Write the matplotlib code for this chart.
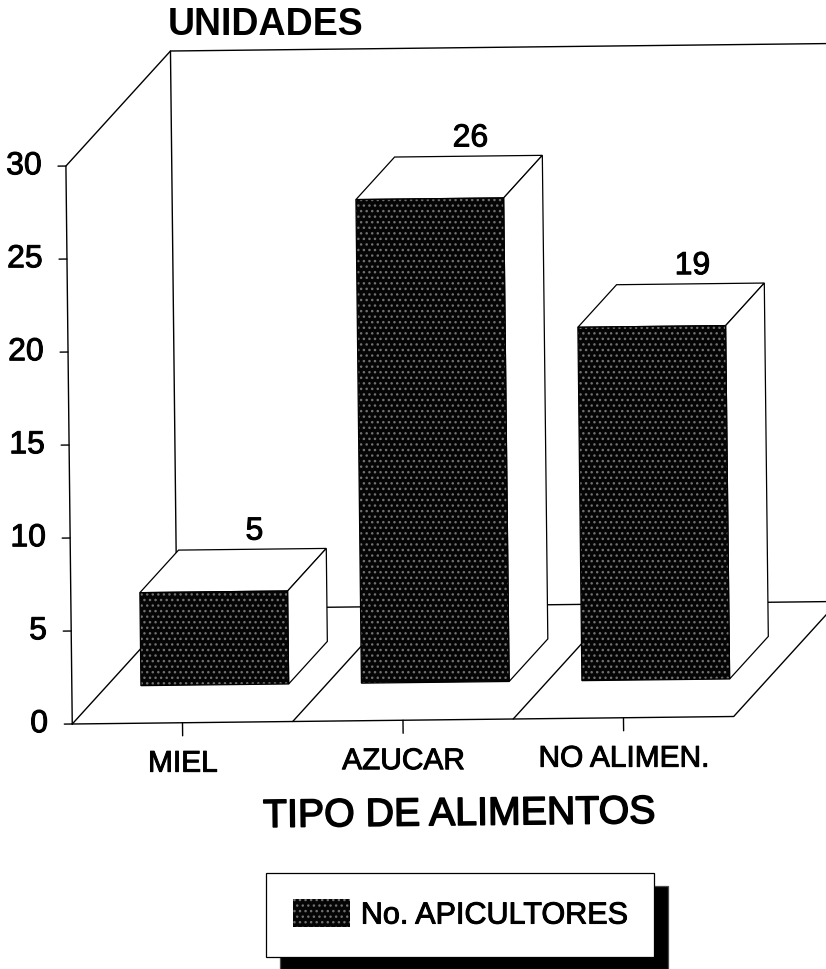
import matplotlib
matplotlib.use("Agg")
import matplotlib.pyplot as plt
import matplotlib.patheffects as pe
from matplotlib.patches import Patch, Polygon
from matplotlib.transforms import Affine2D

plt.rcParams['font.family'] = ['Liberation Sans', 'DejaVu Sans']

categories = ["MIEL", "AZUCAR", "NO ALIMEN."]
apicultores = [5, 26, 19]
y_ticks = [0, 5, 10, 15, 20, 25, 30]
series_name = "No. APICULTORES"
y_title = "UNIDADES"
x_title = "TIPO DE ALIMENTOS"

# oblique projection: depth 1 = back wall
DEPTH_X = 0.48
DEPTH_Y = 6.12
BAR_W = 0.67
BAR_SHIFT = -0.01
BAR_FRONT = 0.33
BAR_BACK = 0.70
Y_MAX = y_ticks[-1]
LEFT = -0.5
RIGHT = len(categories) - 0.5

# darker ink than the plain regular weight, like the photocopied type
INK = [pe.withStroke(linewidth=0.7, foreground="black")]


def proj(x, v, d=0.0):
    return (x + d * DEPTH_X, v + d * DEPTH_Y)


fig = plt.figure(figsize=(8.26, 9.70), dpi=100)
ax = fig.add_axes([0, 0, 1, 1])
ax.set_xlim((0 - 182.5) / 220.5, (826 - 182.5) / 220.5)
ax.set_ylim((725 - 970) / 18.6, 725 / 18.6)
ax.axis("off")

# the scan is a bit rotated
px0, py0 = ax.transData.transform((LEFT, 0))
tilt = ax.transData + Affine2D().rotate_deg_around(px0, py0, 0.65)


def line(points, lw=1.0, z=1):
    xs = [p[0] for p in points]
    ys = [p[1] for p in points]
    ax.plot(xs, ys, color="black", lw=lw, transform=tilt, zorder=z,
            solid_capstyle="round", clip_on=False)


def face(points, color, z, hatch=None):
    if hatch:
        ax.add_patch(Polygon(points, closed=True, facecolor=color, edgecolor="#707070",
                             hatch=hatch, lw=0, transform=tilt, zorder=z))
        ax.add_patch(Polygon(points, closed=True, fill=False, edgecolor="black",
                             lw=0.9, transform=tilt, zorder=z))
    else:
        ax.add_patch(Polygon(points, closed=True, facecolor=color, edgecolor="black",
                             lw=0.9, transform=tilt, zorder=z))


# walls and floor
line([proj(LEFT, 0), proj(LEFT, Y_MAX), proj(LEFT, Y_MAX, 1), proj(RIGHT, Y_MAX, 1)])
line([proj(LEFT, Y_MAX, 1), proj(LEFT, 0, 1), proj(RIGHT, 0, 1)])
line([proj(LEFT, 0), proj(RIGHT, 0), proj(RIGHT, 0, 1)])
line([proj(LEFT, 0), proj(LEFT, 0, 1)])
for i in range(1, len(categories)):
    line([proj(i - 0.5, 0), proj(i - 0.5, 0, 1)])

# ticks
for t in y_ticks:
    line([proj(LEFT - 0.036, t), proj(LEFT, t)])
    x, y = proj(LEFT - 0.11, t)
    ax.text(x, y, str(t), transform=tilt, ha="right", va="center",
            fontsize=23, color="black", path_effects=INK)

for i, name in enumerate(categories):
    line([proj(i, 0), proj(i, -0.7)])
    x, y = proj(i, -2.2)
    ax.text(x, y, name, transform=tilt, ha="center", va="center",
            fontsize=21.5, color="black", path_effects=INK)

# bars, drawn left to right
for i, v in enumerate(apicultores):
    x0 = i - BAR_W / 2 + BAR_SHIFT
    x1 = i + BAR_W / 2 + BAR_SHIFT
    z = 3 + i
    face([proj(x0, v, BAR_FRONT), proj(x1, v, BAR_FRONT),
          proj(x1, v, BAR_BACK), proj(x0, v, BAR_BACK)], "white", z)
    face([proj(x1, 0, BAR_FRONT), proj(x1, 0, BAR_BACK),
          proj(x1, v, BAR_BACK), proj(x1, v, BAR_FRONT)], "white", z)
    face([proj(x0, 0, BAR_FRONT), proj(x1, 0, BAR_FRONT),
          proj(x1, v, BAR_FRONT), proj(x0, v, BAR_FRONT)], "#050505", z, hatch="...")
    x, y = proj(i, v + 0.95, BAR_BACK)
    ax.text(x, y, str(v), transform=tilt, ha="center", va="center",
            fontsize=23, color="black", zorder=8, path_effects=INK)

ax.text(168 / 826, 1 - 25 / 970, y_title, transform=fig.transFigure, ha="left",
        va="center", fontsize=27, fontweight="bold", color="black")
ax.text(459 / 826, 1 - 816 / 970, x_title, transform=fig.transFigure, ha="center",
        va="center", fontsize=28.3, color="black", rotation=0.6,
        path_effects=[pe.withStroke(linewidth=1.1, foreground="black")])

handle = Patch(facecolor="#050505", edgecolor="#707070", hatch="...", lw=0)
leg = ax.legend([handle], [series_name], loc="center",
                bbox_to_anchor=(460 / 826, 1 - 916 / 970), bbox_transform=fig.transFigure,
                fontsize=22, frameon=True, fancybox=False, framealpha=1,
                edgecolor="black", borderpad=0.88, handlelength=1.87, handleheight=1.0,
                handletextpad=0.36, borderaxespad=0,
                shadow={"ox": 10, "oy": -10, "facecolor": "black", "alpha": 1})
leg.get_frame().set_linewidth(0.9)
leg.get_texts()[0].set_path_effects(INK)
leg.set_zorder(10)

fig.savefig("out.png", dpi=100)
